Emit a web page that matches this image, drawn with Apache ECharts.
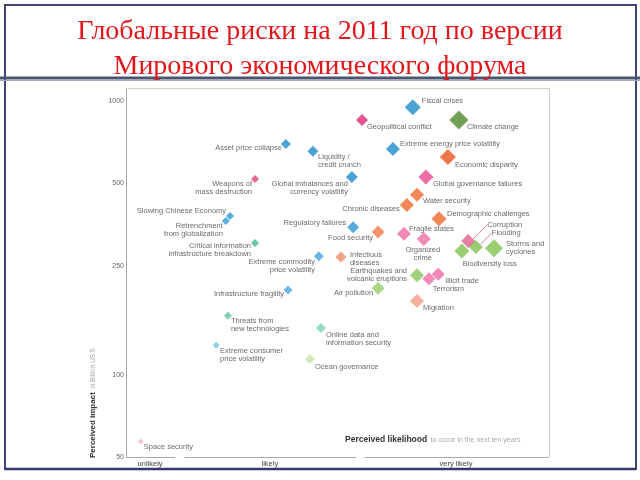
<!DOCTYPE html>
<html><head><meta charset="utf-8">
<script src="https://cdn.jsdelivr.net/npm/echarts@6/dist/echarts.min.js"></script>
<style>html,body{margin:0;padding:0;background:#fff}#c{width:640px;height:480px}</style>
</head><body><div id="c"></div>
<script>
const riskNames = ['Fiscal crises','Geopolitical conflict','Climate change','Asset price collapse','Liquidity /\ncredit crunch','Extreme energy price volatility','Economic disparity','Global imbalances and\ncurrency volatility','Weapons of\nmass destruction','Global governance failures','Water security','Chronic diseases','Demographic challenges','Slowing Chinese Economy','Retrenchment\nfrom globalization','Critical information\ninfrastructure breakdown','Regulatory failures','Food security','Fragile states','Organized\ncrime','Flooding','Corruption','Biodiversity loss','Storms and\ncyclones','Extreme commodity\nprice volatility','Infectious\ndiseases','Earthquakes and\nvolcanic eruptions','Illicit trade','Terrorism','Air pollution','Infrastructure fragility','Migration','Threats from\nnew technologies','Online data and\ninformation security','Extreme consumer\nprice volatility','Ocean governance','Space security'];
const likelihood = [67.8,55.8,78.7,37.8,44.2,63.1,76.1,53.4,30.5,70.9,68.8,66.4,74.0,24.6,23.6,30.5,53.7,59.6,65.7,70.4,82.7,80.9,79.4,87.0,45.6,50.8,68.8,73.8,71.6,59.6,38.3,68.8,24.1,46.1,21.3,43.5,3.5];
const impactBn = [950,852,852,697,656,668,625,528,519,528,454,417,371,380,364,303,346,332,327,313,293,308,283,290,271,269,231,233,224,207,204,186,164,148,128,114,57];
const xTickValues = [5.7,34,78];
const xTickLabels = ['unlikely','likely','very likely'];
const yTickValues = [50,100,250,500,1000];

// ---- styling (not data) ----
const style = {
 'Fiscal crises':['#1e8bc9',16,'left',9,-6],
 'Geopolitical conflict':['#e3287a',12,'left',5,7],
 'Climate change':['#4e8a2f',19,'left',8,7],
 'Asset price collapse':['#1e8bc9',10,'right',-4,4],
 'Liquidity /\ncredit crunch':['#1e8bc9',11,'left',5,10],
 'Extreme energy price volatility':['#1e8bc9',14,'left',7,-5],
 'Economic disparity':['#e9561f',16,'left',7,8],
 'Global imbalances and\ncurrency volatility':['#1e8bc9',12,'right',-4,11],
 'Weapons of\nmass destruction':['#e2407e',8,'right',-3,9],
 'Global governance failures':['#e84a8e',15,'left',7,7],
 'Water security':['#ee6a2a',14,'left',6,6],
 'Chronic diseases':['#ee6a2a',14,'right',-7,4],
 'Demographic challenges':['#ee6a2a',15,'left',8,-5],
 'Slowing Chinese Economy':['#2a9ad6',8,'right',-4,-5],
 'Retrenchment\nfrom globalization':['#2a9ad6',8,'right',-3,9],
 'Critical information\ninfrastructure breakdown':['#40b88a',8,'right',-4,7],
 'Regulatory failures':['#2d97d2',12,'right',-7,-4],
 'Food security':['#f07c48',13,'right',-5,6],
 'Fragile states':['#ec6ea2',14,'left',5,-5],
 'Organized\ncrime':['#ec6ea2',14,'center',-1,15],
 'Corruption':['#e0608f',14,'left',19,-16,true],
 'Flooding':['#80c250',14,'left',16,-14,true],
 'Biodiversity loss':['#80c250',15,'left',1,13],
 'Storms and\ncyclones':['#80c250',18,'left',12,0],
 'Extreme commodity\nprice volatility':['#45a5da',10,'right',-4,10],
 'Infectious\ndiseases':['#f08a6a',11,'left',9,2],
 'Earthquakes and\nvolcanic eruptions':['#8bc65c',14,'right',-10,0],
 'Illicit trade':['#ef6aa2',13,'left',7,7],
 'Terrorism':['#f070a6',13,'left',4,10],
 'Air pollution':['#98cc6a',13,'right',-5,5],
 'Infrastructure fragility':['#4aa5da',9,'right',-4,4],
 'Migration':['#f29c82',14,'left',6,7],
 'Threats from\nnew technologies':['#5fc2a2',8,'left',3,9],
 'Online data and\ninformation security':['#80d0b8',10,'left',5,11],
 'Extreme consumer\nprice volatility':['#7cbde3',7,'left',4,10],
 'Ocean governance':['#c9e2a8',10,'left',5,8],
 'Space security':['#f4b8c8',6,'left',3,6]
};
const FONT = 'Liberation Sans';
const seriesData = riskNames.map((n,i)=>{
  const s = style[n];
  const size = s[1];
  const item = {
    name:n, value:[likelihood[i], impactBn[i]], symbolSize:size,
    itemStyle:{color:s[0]},
    label:{show:true, formatter:'{b}', position:[size/2+s[3], size/2+s[4]], align:s[2], verticalAlign:'middle',
      fontFamily:FONT, fontSize:7.5, lineHeight:8, color:'#444'}
  };
  if (s[5]) item.labelLine = {show:true, lineStyle:{color:'#b85070', width:0.7}};
  return item;
});
const axisSegments = [[0,11.6],[13.9,54.4],[56.5,100]];

const chart = echarts.init(document.getElementById('c'), null, {renderer:'canvas'});
chart.setOption({
  animation:false,
  title:{text:'Глобальные риски на 2011 год по версии\nМирового экономического форума', left:'center', top:9,
    textStyle:{fontFamily:'Liberation Serif', fontSize:28, fontWeight:'normal', color:'#e3161c', lineHeight:35}},
  grid:{left:126, right:91, top:88, bottom:23},
  xAxis:[
    {type:'value', min:0, max:100, axisLine:{show:false}, axisTick:{show:false}, splitLine:{show:false},
     axisLabel:{customValues:xTickValues, margin:3, fontFamily:FONT, fontSize:7.5, color:'#444',
       formatter:v=>{const k=xTickValues.indexOf(v);return k>=0?xTickLabels[k]:'';}}},
    {type:'value', position:'top', min:0, max:100, axisLine:{show:true, lineStyle:{color:'#cfcfcf', width:1}},
     axisTick:{show:false}, axisLabel:{show:false}, splitLine:{show:false}}
  ],
  yAxis:[
    {type:'log', logBase:10, min:50, max:1116, position:'left', axisLine:{show:true, lineStyle:{color:'#aaa', width:1}},
     axisTick:{show:false}, axisLabel:{show:false}, splitLine:{show:false}},
    {type:'value', position:'left', offset:0, min:Math.log10(50), max:Math.log10(1116), axisLine:{show:false},
     axisTick:{show:false}, splitLine:{show:false},
     axisLabel:{customValues:yTickValues.map(v=>Math.log10(v)), margin:2, fontFamily:FONT, fontSize:7, color:'#666',
       formatter:v=>String(Math.round(Math.pow(10,v)))}},
    {type:'value', position:'right', min:0, max:1, axisLine:{show:true, lineStyle:{color:'#cfcfcf', width:1}},
     axisTick:{show:false}, axisLabel:{show:false}, splitLine:{show:false}}
  ],
  series:[{
    type:'scatter', symbol:'diamond', xAxisIndex:0, yAxisIndex:0, blendMode:'multiply',
    data:seriesData,
    markLine:{silent:true, symbol:'none', label:{show:false}, lineStyle:{color:'#aaa', width:1, type:'solid'},
      data:axisSegments.map(s=>[{coord:[s[0],50]},{coord:[s[1],50]}])}
  }],
  graphic:[
    {type:'rect', shape:{x:5,y:5,width:631,height:464}, style:{fill:'none', stroke:'#3e4378', lineWidth:2}},
    {type:'line', shape:{x1:0,y1:78,x2:640,y2:78}, style:{stroke:'#4a5572', lineWidth:3}},
    {type:'line', shape:{x1:0,y1:80.5,x2:640,y2:80.5}, style:{stroke:'#a3abbb', lineWidth:1}},
    {type:'line', shape:{x1:5,y1:469,x2:636,y2:469}, style:{stroke:'#353a6c', lineWidth:2.5}},
    {type:'text', x:345, y:440, style:{text:'{b|Perceived likelihood} {l|to occur in the next ten years}', verticalAlign:'middle',
      rich:{b:{fontFamily:FONT, fontWeight:'bold', fontSize:8.5, fill:'#333'}, l:{fontFamily:FONT, fontSize:7, fill:'#aaa'}}}},
    {type:'text', x:93, y:458, rotation:Math.PI/2, style:{text:'{b|Perceived impact} {l|in Billion US $}', verticalAlign:'middle',
      rich:{b:{fontFamily:FONT, fontWeight:'bold', fontSize:8, fill:'#333'}, l:{fontFamily:FONT, fontSize:6.5, fill:'#aaa'}}}}
  ]
});
</script></body></html>
